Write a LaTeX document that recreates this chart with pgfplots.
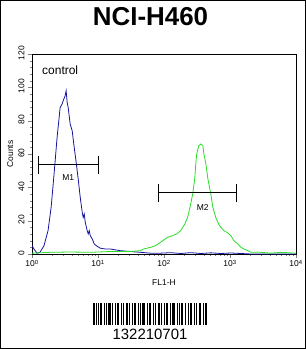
\documentclass[border=0pt]{standalone}
\usepackage{fontspec}
\setmainfont{Liberation Sans}
\usepackage{pgfplots}
\pgfplotsset{compat=1.18}
\definecolor{fcblue}{RGB}{20,20,160}
\definecolor{fcgreen}{RGB}{40,220,40}
\begin{document}
\begin{tikzpicture}
% outer frame
\draw[line width=1bp] (0.5bp,-0.5bp) rectangle (305.5bp,-348.5bp);
% title
\node[font=\fontsize{26}{26}\selectfont\bfseries] at (150.5bp,-17bp) {NCI-H460};
\begin{axis}[
  at={(32bp,-254bp)}, anchor=south west,
  width=264bp, height=200bp, scale only axis,
  xmode=log, xmin=1, xmax=10000,
  ymin=0, ymax=120,
  xtick={1,10,100,1000,10000},
  xticklabels={10\textsuperscript{0},10\textsuperscript{1},10\textsuperscript{2},10\textsuperscript{3},10\textsuperscript{4}},
  ytick={0,20,...,120},
  minor y tick num=4,
  tick align=outside,
  xtick pos=bottom, ytick pos=left,
  major tick length=4bp, minor tick length=2bp,
  /pgf/number format/assume math mode=true,
  tick label style={font=\fontsize{8.5}{8.5}\selectfont},
  yticklabel style={rotate=90, anchor=south, xshift=1bp},
  xticklabel style={yshift=1.5bp},
  xlabel={FL1-H}, ylabel={Counts},
  label style={font=\fontsize{8.5}{8.5}\selectfont},
  xlabel style={at={(axis description cs:0.5,-0.145)}, anchor=center},
  ylabel style={at={(axis description cs:-0.083,0.5)}, anchor=center},
  clip=true,
]
\addplot[fcblue, line width=0.8bp] coordinates {
(1.0,5) (1.07,3) (1.19,0.5) (1.32,1) (1.52,5) (1.75,14) (1.95,28) (2.16,48)
(2.40,70) (2.58,82) (2.67,88) (2.86,90) (2.97,92) (3.18,95) (3.29,98) (3.41,91)
(3.53,88) (3.79,78) (3.92,76) (4.06,74) (4.36,64) (4.67,55) (5.01,45) (5.38,34)
(5.77,25) (5.97,22) (6.19,24) (6.41,19) (6.87,14) (7.11,12) (7.37,14) (7.63,11)
(8.19,9) (8.78,6) (9.42,5) (10.8,3.5) (12.9,3) (15.4,3) (18.3,2.5) (21.8,2)
(31.0,1.5) (44.0,1) (62.5,0.5) (88.8,0.5) (126,0.8) (179,0.3) (254,0.8) (361,0.3)
(512,0.7) (727,0.3) (1032,0.6) (1466,0.3) (2081,0) (10000,0)
};
\addplot[fcgreen, line width=0.8bp] coordinates {
(1.0,0.5) (1.88,1) (3.79,1.2) (7.63,1) (15.4,1.5) (31.0,1.5) (44.0,2) (48.8,3)
(62.5,4) (74.4,5) (88.8,7) (113,10) (134,11) (155,12) (179,14) (207,18) (228,22)
(254,30) (272,36) (292,45) (303,54) (313,60) (337,65) (361,66) (388,65) (402,60)
(431,54) (463,45) (512,36) (550,28) (608,22) (673,18) (727,16) (807,14) (895,13)
(1032,11) (1144,8) (1317,6) (1466,4) (1625,3) (1870,2) (2081,1) (2965,1) (4180,0.5)
(5900,1) (10000,0.5)
};
% gates
\draw[black, line width=0.8bp] (axis cs:1.23,53.5) -- (axis cs:10.1,53.5);
\draw[black, line width=0.8bp] (axis cs:1.23,48.1) -- (axis cs:1.23,58.9);
\draw[black, line width=0.8bp] (axis cs:10.1,48.1) -- (axis cs:10.1,58.9);
\node[font=\fontsize{8.5}{8.5}\selectfont] at (axis cs:3.53,46) {M1};
\draw[black, line width=0.8bp] (axis cs:83,36.7) -- (axis cs:1270,36.7);
\draw[black, line width=0.8bp] (axis cs:83,31.3) -- (axis cs:83,42.1);
\draw[black, line width=0.8bp] (axis cs:1270,31.3) -- (axis cs:1270,42.1);
\node[font=\fontsize{8.5}{8.5}\selectfont] at (axis cs:387,28) {M2};
\node[font=\fontsize{12}{12}\selectfont, anchor=west, inner sep=0pt] at (axis cs:1.42,110) {control};
\end{axis}
% barcode
\foreach \x/\w in {0/2,3/1,5/1,7/2,11/1,13/1,15/3,19/1,22/1,24/2,28/1,30/1,33/2,36/1,39/1,41/2,45/1,47/1,49/3,54/1,56/2,60/1,62/1,65/2,68/1,71/1,73/2,77/1,79/3,84/1,86/1,88/2,92/1,95/1,97/2,101/1,103/1,106/2,110/1,112/2}
  \fill[black] ({(93+\x)*1bp},-303bp) rectangle ({(93+\x+\w)*1bp},-325bp);
\node[font=\fontsize{15}{15}\selectfont] at (150bp,-334bp) {132210701};
\end{tikzpicture}
\end{document}
